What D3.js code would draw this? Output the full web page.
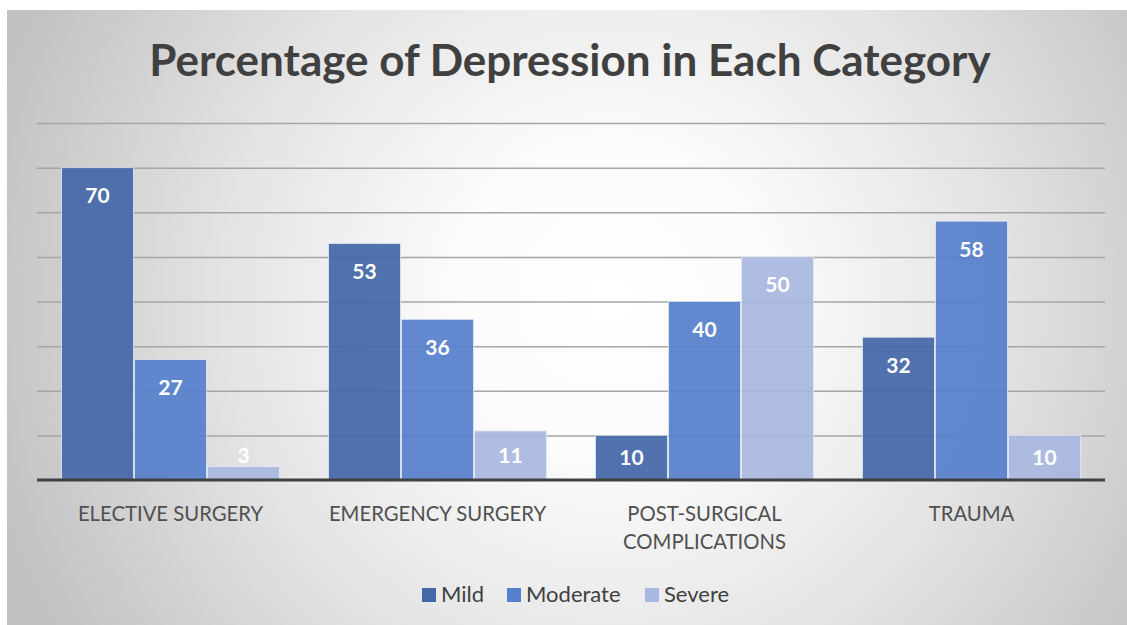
<!DOCTYPE html>
<html>
<head>
<meta charset="utf-8">
<script src="https://cdn.jsdelivr.net/npm/d3@7"></script>
<style>
  html, body { margin: 0; padding: 0; background: #fff; }
  svg { display: block; font-family: Lato, "Open Sans", sans-serif; }
</style>
</head>
<body>
<div id="chart"></div>
<script>
// chart data
const categories = ["ELECTIVE SURGERY", "EMERGENCY SURGERY", "POST-SURGICAL COMPLICATIONS", "TRAUMA"];
const categoryLines = [["ELECTIVE SURGERY"], ["EMERGENCY SURGERY"], ["POST-SURGICAL", "COMPLICATIONS"], ["TRAUMA"]];
const seriesNames = ["Mild", "Moderate", "Severe"];
const mild = [70, 53, 10, 32];
const moderate = [27, 36, 40, 58];
const severe = [3, 11, 50, 10];
const yTicks = [0, 10, 20, 30, 40, 50, 60, 70, 80];
const colors = ["#4467a8", "#5680cc", "#a9b8e0"];

const width = 1127, height = 625;
const plot = { left: 37, right: 1105, top: 123, bottom: 480 };

const svg = d3.select("#chart").append("svg")
    .attr("width", width)
    .attr("height", height);

const defs = svg.append("defs");
const grad = defs.append("radialGradient")
    .attr("id", "bg")
    .attr("gradientUnits", "userSpaceOnUse")
    .attr("cx", 610).attr("cy", 300).attr("r", 640);
grad.append("stop").attr("offset", 0).attr("stop-color", "#ffffff");
grad.append("stop").attr("offset", 0.25).attr("stop-color", "#fbfbfb");
grad.append("stop").attr("offset", 0.6).attr("stop-color", "#e4e4e4");
grad.append("stop").attr("offset", 1).attr("stop-color", "#c2c2c2");

svg.append("rect")
    .attr("x", 7).attr("y", 10)
    .attr("width", width - 7).attr("height", height - 10)
    .attr("fill", "url(#bg)");

const x0 = d3.scaleBand()
    .domain(categories)
    .range([plot.left, plot.right])
    .padding(0);

const x1 = d3.scaleBand()
    .domain(seriesNames)
    .range([24, x0.bandwidth() - 24])
    .padding(0);

const y = d3.scaleLinear()
    .domain([0, 80])
    .range([plot.bottom, plot.top]);

// gridlines
svg.append("g")
    .attr("transform", `translate(${plot.left},0)`)
    .call(d3.axisLeft(y).tickValues(yTicks.slice(1)).tickSize(-(plot.right - plot.left)).tickFormat(""))
    .call(g => g.select(".domain").remove())
    .call(g => g.selectAll(".tick line").attr("stroke", "#a6a6a6").attr("stroke-width", 1.5));

// bars
const rows = categories.map((c, i) => ({
    category: c,
    values: [mild[i], moderate[i], severe[i]].map((v, j) => ({ series: seriesNames[j], value: v, idx: j }))
}));

const groups = svg.append("g").selectAll("g")
    .data(rows)
    .join("g")
    .attr("transform", d => `translate(${x0(d.category)},0)`);

groups.selectAll("rect")
    .data(d => d.values)
    .join("rect")
    .attr("x", d => x1(d.series) + 0.5)
    .attr("y", d => y(d.value))
    .attr("width", x1.bandwidth() - 1)
    .attr("height", d => y(0) - y(d.value))
    .attr("fill", d => colors[d.idx])
    .attr("fill-opacity", 0.93)
    .attr("stroke", "#e4e9f4")
    .attr("stroke-opacity", 0.8)
    .attr("stroke-width", 1);

groups.selectAll("text")
    .data(d => d.values)
    .join("text")
    .attr("x", d => x1(d.series) + x1.bandwidth() / 2)
    .attr("y", d => {
        const h = y(0) - y(d.value);
        if (h >= 71) return y(d.value) + 35.5;
        if (h >= 20) return y(d.value) + h / 2 + 7.5;
        return y(d.value) - 3.5;
    })
    .attr("text-anchor", "middle")
    .attr("fill", "#ffffff")
    .attr("font-size", 21)
    .attr("font-weight", 700)
    .text(d => d.value);

// baseline
svg.append("line")
    .attr("x1", plot.left).attr("x2", plot.right)
    .attr("y1", y(0)).attr("y2", y(0))
    .attr("stroke", "#404040")
    .attr("stroke-width", 3);

// category labels
const xAxis = svg.append("g");
categories.forEach((c, i) => {
    const t = xAxis.append("text")
        .attr("x", x0(c) + x0.bandwidth() / 2)
        .attr("y", 521)
        .attr("text-anchor", "middle")
        .attr("fill", "#505050")
        .attr("font-size", 20.3);
    categoryLines[i].forEach((line, k) => {
        t.append("tspan")
            .attr("x", x0(c) + x0.bandwidth() / 2)
            .attr("dy", k === 0 ? 0 : 28)
            .text(line);
    });
});

// title
svg.append("text")
    .attr("x", 570)
    .attr("y", 76)
    .attr("text-anchor", "middle")
    .attr("fill", "#404040")
    .attr("font-size", 44)
    .attr("font-weight", 700)
    .text("Percentage of Depression in Each Category");

// legend
const legendX = [422, 507, 645];
const legend = svg.append("g");
seriesNames.forEach((s, i) => {
    legend.append("rect")
        .attr("x", legendX[i]).attr("y", 588)
        .attr("width", 14).attr("height", 14)
        .attr("fill", colors[i]);
    legend.append("text")
        .attr("x", legendX[i] + 19)
        .attr("y", 602)
        .attr("fill", "#404040")
        .attr("font-size", 22)
        .text(s);
});
</script>
</body>
</html>
